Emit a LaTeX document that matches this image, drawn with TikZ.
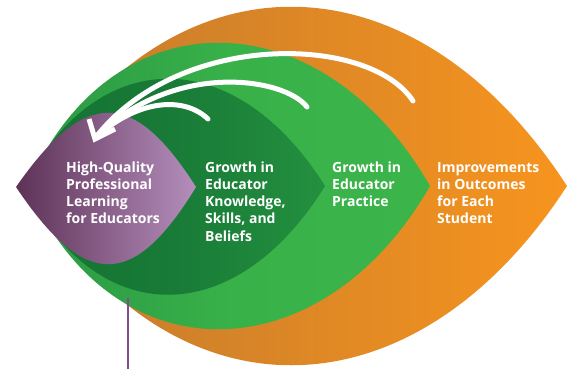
\documentclass[tikz,border=0pt]{standalone}
\usepackage{fontspec}
\setmainfont{Open Sans}
\definecolor{orgL}{HTML}{C27A2E}
\definecolor{orgR}{HTML}{F7941E}
\definecolor{lgL}{HTML}{2A9844}
\definecolor{lgR}{HTML}{3BB54A}
\definecolor{dgL}{HTML}{147233}
\definecolor{dgR}{HTML}{23903F}
\definecolor{puL}{HTML}{5E3257}
\definecolor{puR}{HTML}{B48EBC}
\definecolor{puLine}{HTML}{804C8E}
\tikzset{
  lbl/.style={anchor=base west, inner sep=0pt, text=white, align=left,
    font=\fontsize{14pt}{17.3pt}\selectfont\bfseries},
  loop/.style={draw=white, line width=5pt, line cap=round},
  headtip/.style={draw=white, line width=5pt, line cap=butt, line join=miter}
}
\begin{document}
\begin{tikzpicture}[x=1pt,y=-1pt]
\useasboundingbox (0,0) rectangle (570,369);
% orange lens
\shade[left color=orgL, right color=orgR]
  (28,186) .. controls (166,-53) and (412,-53) .. (567,186)
           .. controls (412,425) and (166,425) .. (28,186) -- cycle;
% light green lens
\shade[left color=lgL, right color=lgR, middle color=lgR!85!lgL]
  (28,186) .. controls (110,-5) and (320,-5) .. (430,186)
           .. controls (320,377) and (110,377) .. (28,186) -- cycle;
% dark green lens
\shade[left color=dgL, right color=dgR, middle color=dgL!70!dgR]
  (24,186) .. controls (97,43) and (235,43) .. (325,186)
           .. controls (235,331) and (97,331) .. (24,186) -- cycle;
% purple lens
\shade[left color=puL, right color=puR]
  (16,187) .. controls (85,88) and (133,88) .. (196,187)
           .. controls (133,290) and (85,290) .. (16,187) -- cycle;
% feedback arrows
\coordinate (tip) at (96,137);
\coordinate (s1) at (413,101);
\coordinate (s2) at (307,107);
\coordinate (s3) at (208,119);
\draw[loop] (s1) .. controls (370,35) and (180,30) .. (tip);
\draw[loop] (s2) .. controls (285,78) and (175,60) .. (tip);
\draw[loop] (s3) .. controls (185,97) and (140,98) .. (tip);
\coordinate (h1) at (89,119);
\coordinate (h2) at (115,129);
\draw[headtip] (h1) -- (95,139) -- (h2);
% labels (base = baseline of last line)
\node[lbl] (t1) at (66,223.9) {High-Quality\\Professional\\Learning\\for Educators};
\node[lbl] (t2) at (205,241.2) {Growth in\\Educator\\Knowledge,\\Skills, and\\Beliefs};
\node[lbl] (t3) at (332,206.6) {Growth in\\Educator\\Practice};
\node[lbl] (t4) at (437,223.9) {Improvements\\in Outcomes\\for Each\\Student};
% purple stem
\coordinate (stemtop) at (128,298);
\coordinate (stembot) at (128,369);
\draw[puLine, line width=2.8pt] (stemtop) -- (stembot);
\end{tikzpicture}
\end{document}
